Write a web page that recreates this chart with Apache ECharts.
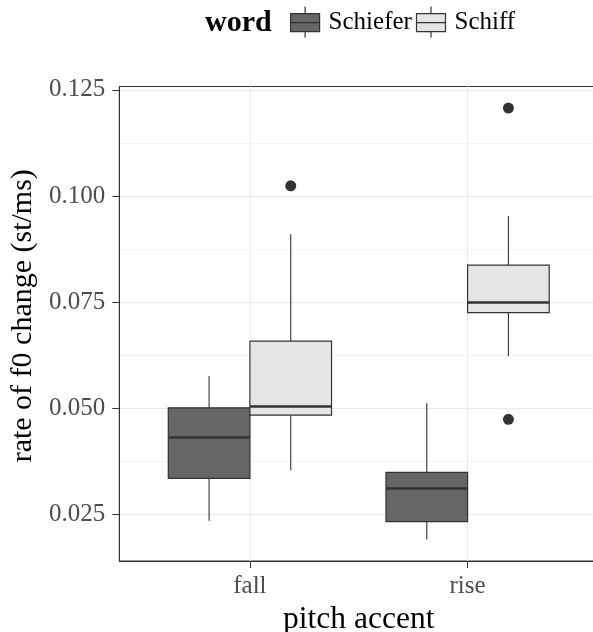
<!DOCTYPE html>
<html><head><meta charset="utf-8">
<script src="https://cdn.jsdelivr.net/npm/echarts@6/dist/echarts.min.js"></script>
<style>html,body{margin:0;padding:0;background:#fff}#c{width:593px;height:632px}</style>
</head><body><div id="c"></div>
<script>
const categories = ['fall', 'rise'];
const words = ['Schiefer', 'Schiff'];
// [lower whisker, Q1, median, Q3, upper whisker] per category
const schieferStats = [
  [0.0235, 0.0335, 0.0431, 0.0501, 0.0576],
  [0.0191, 0.0233, 0.0311, 0.0349, 0.0512]
];
const schiffStats = [
  [0.0354, 0.0484, 0.0504, 0.0658, 0.0910],
  [0.0623, 0.0725, 0.0749, 0.0837, 0.0953]
];
// [category index, value]
const schieferOutliers = [];
const schiffOutliers = [[0, 0.1024], [1, 0.1207], [1, 0.0474]];
const yTicks = [0.025, 0.050, 0.075, 0.100, 0.125];
const yMinorTicks = [0.0375, 0.0625, 0.0875, 0.1125];
const xTicks = [1, 2];

const FONT = 'Liberation Serif';
const fills = ['#666666', '#e5e5e5'];
const STROKE = '#333333';
const dodge = [-0.1875, 0.1875];
const boxWidth = 0.375;

function renderBox(params, api) {
  const x = api.value(0);
  const low = api.coord([x, api.value(1)]);
  const q1 = api.coord([x, api.value(2)]);
  const med = api.coord([x, api.value(3)]);
  const q3 = api.coord([x, api.value(4)]);
  const high = api.coord([x, api.value(5)]);
  const w = api.size([boxWidth, 0])[0];
  const fill = api.visual('color');
  const cx = q1[0];
  return {
    type: 'group',
    children: [
      { type: 'line', shape: { x1: cx, y1: q3[1], x2: cx, y2: high[1] }, style: { stroke: STROKE, lineWidth: 1.1 } },
      { type: 'line', shape: { x1: cx, y1: q1[1], x2: cx, y2: low[1] }, style: { stroke: STROKE, lineWidth: 1.1 } },
      { type: 'rect', shape: { x: cx - w / 2, y: q3[1], width: w, height: q1[1] - q3[1] }, style: { fill: fill, stroke: STROKE, lineWidth: 1.2 } },
      { type: 'line', shape: { x1: cx - w / 2, y1: med[1], x2: cx + w / 2, y2: med[1] }, style: { stroke: STROKE, lineWidth: 2.4 } }
    ]
  };
}

const statsByWord = [schieferStats, schiffStats];
const outliersByWord = [schieferOutliers, schiffOutliers];
const series = [];
words.forEach((wd, k) => {
  series.push({
    name: wd,
    type: 'custom',
    renderItem: renderBox,
    itemStyle: { color: fills[k] },
    encode: { x: 0, y: [1, 2, 3, 4, 5] },
    data: statsByWord[k].map((s, i) => [i + 1 + dodge[k]].concat(s)),
    z: 3
  });
  series.push({
    name: wd + ' outliers',
    type: 'scatter',
    symbolSize: 11,
    itemStyle: { color: STROKE, opacity: 1 },
    data: outliersByWord[k].map(o => [o[0] + 1 + dodge[k], o[1]]),
    z: 4
  });
});

const legendIcon = 'path://M0,7H29V25H0Z M14.5,0V7 M14.5,25V31 M0,16H29';

const option = {
  animation: false,
  backgroundColor: '#ffffff',
  title: {
    text: 'word', left: 205, top: 8, padding: 0,
    textStyle: { fontFamily: FONT, fontWeight: 'bold', fontSize: 30, color: '#000' }
  },
  legend: {
    left: 290, top: 6, padding: 0, itemGap: 4,
    itemWidth: 29, itemHeight: 31,
    icon: legendIcon,
    data: words.map((wd, k) => ({ name: wd, itemStyle: { color: fills[k], borderColor: STROKE, borderWidth: 1.2 } })),
    textStyle: { fontFamily: FONT, fontSize: 25, color: '#000', padding: [4, 0, 0, 4] }
  },
  grid: { left: 119.3, top: 86.5, right: -5.2, bottom: 71, outerBoundsMode: 'none', containLabel: false, show: true, borderColor: STROKE, borderWidth: 1, backgroundColor: 'transparent' },
  xAxis: {
    type: 'value', min: 0.4, max: 2.6,
    name: 'pitch accent', nameLocation: 'middle', nameGap: 41,
    nameTextStyle: { fontFamily: FONT, fontSize: 31.5, color: '#000' },
    axisLine: { show: true, lineStyle: { color: STROKE, width: 1 } },
    axisTick: { show: true, length: 7, customValues: xTicks, lineStyle: { color: STROKE } },
    axisLabel: { customValues: xTicks, formatter: v => categories[Math.round(v) - 1], fontFamily: FONT, fontSize: 25, color: '#4d4d4d', margin: 13 },
    splitLine: { show: true, lineStyle: { color: '#ebebeb', width: 1 } }
  },
  yAxis: [{
    type: 'value', min: 0.01402, max: 0.12578,
    name: 'rate of f0 change (st/ms)', nameLocation: 'middle', nameGap: 79,
    nameTextStyle: { fontFamily: FONT, fontSize: 30, color: '#000', padding: [0, 0, 0, 16] },
    axisLine: { show: true, lineStyle: { color: STROKE, width: 1 } },
    axisTick: { show: true, length: 7, customValues: yTicks, lineStyle: { color: STROKE } },
    axisLabel: { customValues: yTicks, formatter: v => v.toFixed(3), fontFamily: FONT, fontSize: 25, color: '#4d4d4d', margin: 14 },
    splitLine: { show: true, lineStyle: { color: '#ebebeb', width: 1 } }
  }, {
    type: 'value', min: 0.01402, max: 0.12578, position: 'left',
    axisLine: { show: false }, axisLabel: { show: false },
    axisTick: { show: false, customValues: yMinorTicks },
    splitLine: { show: true, lineStyle: { color: '#f4f4f4', width: 1 } }
  }],
  series: series
};

const chart = echarts.init(document.getElementById('c'), null, { renderer: 'canvas' });
chart.setOption(option);
</script>
</body></html>
